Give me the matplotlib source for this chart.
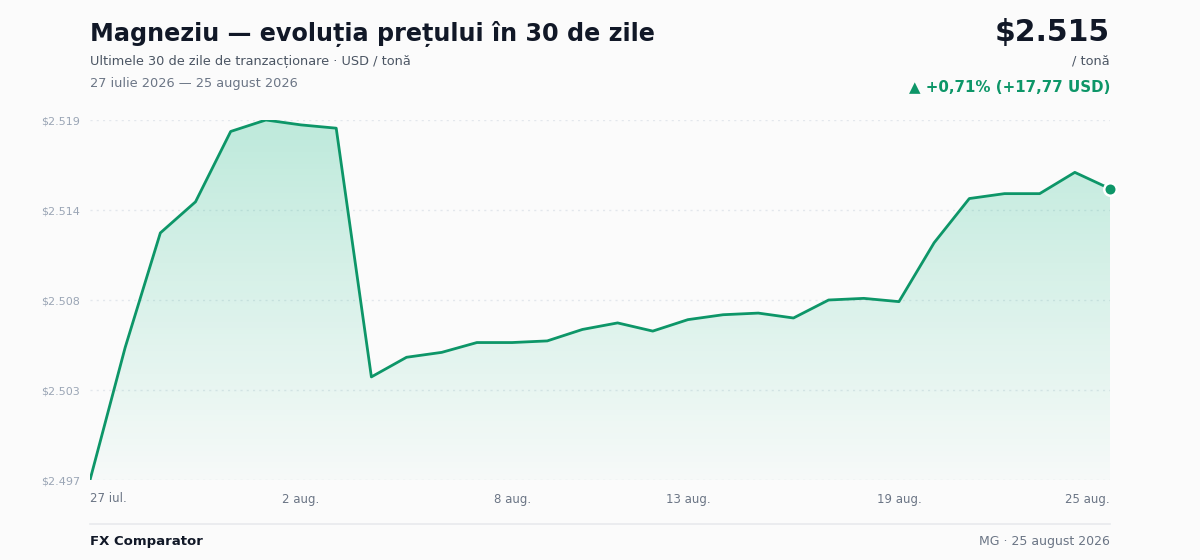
import matplotlib
matplotlib.use("Agg")
import matplotlib.pyplot as plt
import numpy as np
from matplotlib.patches import Polygon
from matplotlib.lines import Line2D
from matplotlib.colors import LinearSegmentedColormap

dates = ["27 iul.", "28 iul.", "29 iul.", "30 iul.", "31 iul.", "1 aug.", "2 aug.",
         "3 aug.", "4 aug.", "5 aug.", "6 aug.", "7 aug.", "8 aug.", "9 aug.",
         "10 aug.", "11 aug.", "12 aug.", "13 aug.", "14 aug.", "15 aug.", "16 aug.",
         "17 aug.", "18 aug.", "19 aug.", "20 aug.", "21 aug.", "22 aug.", "23 aug.",
         "24 aug.", "25 aug."]
prices = [2.4972, 2.5053, 2.5123, 2.5142, 2.5185, 2.5192, 2.5189, 2.5187,
          2.5035, 2.5047, 2.5050, 2.5056, 2.5056, 2.5057, 2.5064, 2.5068,
          2.5063, 2.5070, 2.5073, 2.5074, 2.5071, 2.5082, 2.5083, 2.5081,
          2.5117, 2.5144, 2.5147, 2.5147, 2.5160, 2.5150]
tick_idx = [0, 6, 12, 17, 23, 29]

title = "Magneziu — evoluția prețului în 30 de zile"
subtitle = "Ultimele 30 de zile de tranzacționare · USD / tonă"
date_range = "27 iulie 2026 — 25 august 2026"
price_label = "$2.515"
unit_label = "/ tonă"
change_label = "▲ +0,71% (+17,77 USD)"
footer_left = "FX Comparator"
footer_right = "MG · 25 august 2026"

GREEN = "#0d9668"
BG = "#fbfbfb"

plt.rcParams['font.family'] = ['DejaVu Sans']
fig = plt.figure(figsize=(12, 5.6), dpi=100, facecolor=BG)
W, H = 1200, 560
def fx(px): return px / W
def fy(py): return 1 - py / H

ax = fig.add_axes([fx(90), fy(480), fx(1110) - fx(90), fy(120) - fy(480)])
ax.set_facecolor(BG)
x = np.arange(len(prices))
y = np.array(prices)
ymin, ymax = y.min(), y.max()
ax.set_xlim(0, len(prices) - 1)
ax.set_ylim(ymin, ymax)

# gradient fill
grad = np.linspace(0, 1, 256).reshape(-1, 1)
cmap = LinearSegmentedColormap.from_list(
    "g", [(0.063, 0.725, 0.506, 0.02), (0.063, 0.725, 0.506, 0.26)])
im = ax.imshow(grad, aspect='auto', cmap=cmap, origin='lower',
               extent=[0, len(prices) - 1, ymin, ymax], zorder=1)
poly = Polygon(np.column_stack([np.r_[x, x[-1], x[0]], np.r_[y, ymin, ymin]]),
               closed=True, facecolor='none', edgecolor='none')
ax.add_patch(poly)
im.set_clip_path(poly)

ticks = np.linspace(ymin, ymax, 5)
for t in ticks:
    ax.axhline(t, color="#e3e7ec", lw=1, ls=(0, (1.5, 3)), zorder=0)
ax.plot(x, y, color=GREEN, lw=2, zorder=3, solid_joinstyle='round')
ax.plot([x[-1]], [y[-1]], 'o', ms=9, color=GREEN, mec='white', mew=1.8, zorder=4, clip_on=False)

ax.set_yticks(ticks)
ax.set_yticklabels([f"${t:.3f}" for t in ticks], color="#9aa5b5", fontsize=8)
ax.set_xticks([x[i] for i in tick_idx])
labs = ax.set_xticklabels([dates[i] for i in tick_idx], color="#6b7585", fontsize=8.5)
labs[0].set_ha('left')
labs[-1].set_ha('right')
ax.tick_params(axis='both', length=0)
ax.tick_params(axis='y', pad=7)
ax.tick_params(axis='x', pad=9)
for s in ax.spines.values():
    s.set_visible(False)

# header
fig.text(fx(90), fy(34), title, fontsize=17.2, fontweight='bold', color="#111827", va='center', ha='left')
fig.text(fx(90), fy(61), subtitle, fontsize=9.3, color="#4b5563", va='center', ha='left')
fig.text(fx(90), fy(83), date_range, fontsize=9.3, color="#6b7585", va='center', ha='left')
fig.text(fx(1110), fy(32), price_label, fontsize=21.5, fontweight='bold', color="#111827", va='center', ha='right')
fig.text(fx(1110), fy(61), unit_label, fontsize=9.3, color="#4b5563", va='center', ha='right')
fig.text(fx(1110), fy(87), change_label, fontsize=10.8, fontweight='bold', color=GREEN, va='center', ha='right')

# footer
fig.add_artist(Line2D([fx(90), fx(1110)], [fy(524), fy(524)], color="#e8eaed", lw=1.2))
fig.text(fx(90), fy(541), footer_left, fontsize=9.5, fontweight='bold', color="#111827", va='center', ha='left')
fig.text(fx(1110), fy(541), footer_right, fontsize=9, color="#6b7585", va='center', ha='right')

fig.savefig("out.png", dpi=100, facecolor=BG)
